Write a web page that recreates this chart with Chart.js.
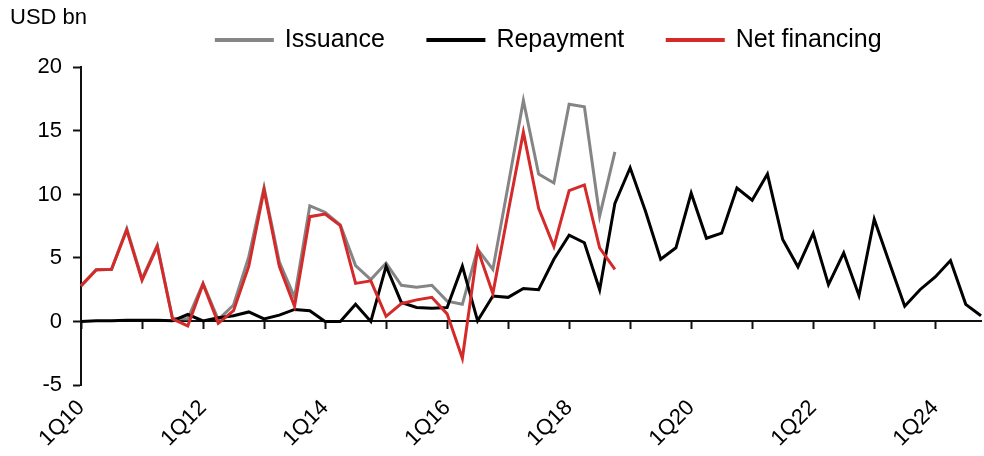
<!DOCTYPE html>
<html><head><meta charset="utf-8">
<script src="https://cdn.jsdelivr.net/npm/chart.js@4"></script>
<style>html,body{margin:0;padding:0;background:#fff}</style>
</head><body>
<canvas id="c" width="984" height="456"></canvas>
<script>
const quarters = ['1Q10','2Q10','3Q10','4Q10','1Q11','2Q11','3Q11','4Q11','1Q12','2Q12','3Q12','4Q12',
'1Q13','2Q13','3Q13','4Q13','1Q14','2Q14','3Q14','4Q14','1Q15','2Q15','3Q15','4Q15',
'1Q16','2Q16','3Q16','4Q16','1Q17','2Q17','3Q17','4Q17','1Q18','2Q18','3Q18','4Q18',
'1Q19','2Q19','3Q19','4Q19','1Q20','2Q20','3Q20','4Q20','1Q21','2Q21','3Q21','4Q21',
'1Q22','2Q22','3Q22','4Q22','1Q23','2Q23','3Q23','4Q23','1Q24','2Q24','3Q24','4Q24'];
const tickLabels = ['1Q10','1Q12','1Q14','1Q16','1Q18','1Q20','1Q22','1Q24'];
const issuance = [2.8,4.1,4.1,7.3,3.35,6.0,0.25,0.2,3.0,0.15,1.3,5.1,10.55,4.7,1.9,9.1,8.6,7.6,4.4,3.3,4.6,2.85,2.7,2.85,1.6,1.35,5.7,4.1,10.7,17.4,11.6,10.9,17.1,16.9,8.3,13.35];
const repayment = [0.0,0.05,0.05,0.1,0.1,0.1,0.05,0.55,0.05,0.3,0.45,0.75,0.2,0.5,0.95,0.85,0.0,0.0,1.35,0.0,4.35,1.5,1.1,1.05,1.1,4.35,0.05,2.0,1.9,2.6,2.5,4.9,6.8,6.2,2.5,9.3,12.1,8.7,4.9,5.8,10.1,6.55,6.95,10.5,9.55,11.6,6.45,4.3,6.95,2.9,5.4,2.05,8.05,4.6,1.2,2.5,3.5,4.8,1.35,0.45];
const netFinancing = [2.8,4.05,4.1,7.2,3.25,5.9,0.2,-0.35,2.95,-0.15,0.85,4.35,10.35,4.35,1.2,8.25,8.45,7.55,3.0,3.2,0.4,1.4,1.7,1.9,0.6,-2.9,5.7,2.2,8.6,14.9,8.9,5.9,10.3,10.75,5.8,4.1];

const FONT = "'Liberation Sans', Arial, sans-serif";
const FS = 22;
const LFS = 25;

const legendNudge = {
  id: 'legendNudge',
  afterLayout(chart) {
    const l = chart.legend; if (!l) return;
    const pad = l.options.labels.padding;
    const newTop = 40 - LFS / 2 - pad;
    l.top = newTop;
    l.bottom = newTop + 2 * pad + LFS + 6;
    l.height = l.bottom - l.top;
    const dx = 549 - (l.left + l.right) / 2;
    l.left += dx; l.right += dx;
  }
};

new Chart(document.getElementById('c'), {
  type: 'line',
  data: {
    labels: quarters,
    datasets: [
      { label: 'Issuance', data: issuance, borderColor: '#858585', backgroundColor: '#858585', borderWidth: 3, pointRadius: 0, order: 2, xAxisID: 'x', yAxisID: 'y' },
      { label: 'Repayment', data: repayment, borderColor: '#000000', backgroundColor: '#000000', borderWidth: 3, pointRadius: 0, order: 1, xAxisID: 'x', yAxisID: 'y' },
      { label: 'Net financing', data: netFinancing, borderColor: '#d42a2a', backgroundColor: '#d42a2a', borderWidth: 3, pointRadius: 0, order: 0, xAxisID: 'x', yAxisID: 'y' }
    ]
  },
  options: {
    responsive: false, animation: false, devicePixelRatio: 1,
    layout: { padding: { left: 10, right: 3, top: 0, bottom: 0 } },
    elements: { line: { tension: 0 } },
    plugins: {
      title: { display: true, text: 'USD bn', align: 'start', color: '#000', font: { family: FONT, size: FS, weight: 'normal' }, padding: { top: 5, bottom: 4 } },
      legend: { display: true, position: 'top', maxHeight: 32,
        labels: { color: '#000', font: { family: FONT, size: LFS }, boxWidth: 56, boxHeight: 1, padding: 43,
          sort: (a, b) => a.datasetIndex - b.datasetIndex } },
      tooltip: { enabled: false }
    },
    scales: {
      x: { type: 'category', position: 'bottom', offset: false,
        grid: { display: false, drawTicks: false }, border: { display: false },
        ticks: { autoSkip: false, maxRotation: 45, minRotation: 45, padding: 10, color: '#000', font: { family: FONT, size: FS },
          callback(v, i) { const q = quarters[i]; return tickLabels.includes(q) ? q : ''; } },
        afterFit(s) { s.height = 71; s.paddingRight = 0; } },
      x2: { type: 'category', axis: 'x', position: { y: 0 }, offset: false,
        grid: { drawOnChartArea: false, drawTicks: true, tickLength: 7, tickWidth: 2, tickColor: (c) => (c.index % 4 === 0 ? '#111' : 'rgba(0,0,0,0)') },
        border: { display: true, color: '#111', width: 2 },
        ticks: { display: false, autoSkip: false },
        afterFit(s) { s.paddingRight = 0; s.paddingLeft = 0; } },
      y: { min: -5, max: 20,
        grid: { drawOnChartArea: false, drawTicks: true, tickLength: 8, tickWidth: 2, tickColor: '#111' },
        border: { display: true, color: '#111', width: 2 },
        ticks: { stepSize: 5, color: '#000', padding: 11, font: { family: FONT, size: FS } },
        afterFit(s) { s.width = 71; } }
    }
  },
  plugins: [legendNudge]
});
</script>
</body></html>
